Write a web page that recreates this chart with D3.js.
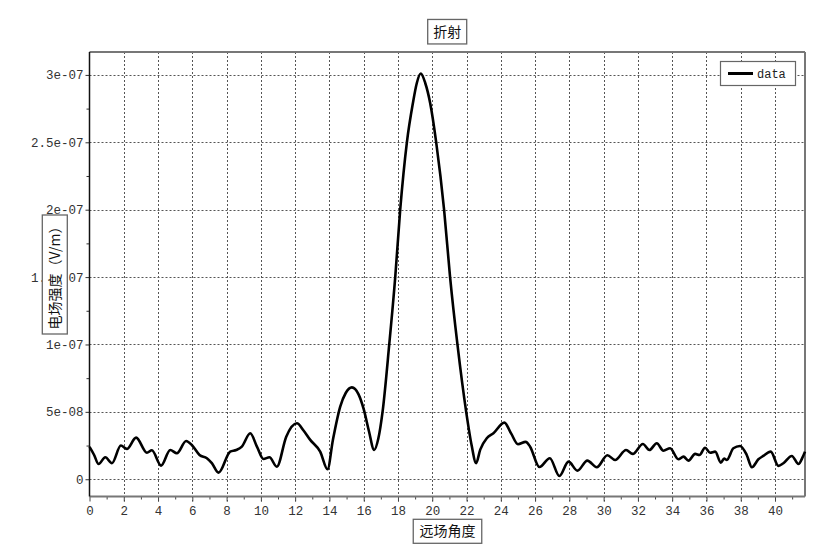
<!DOCTYPE html>
<html>
<head>
<meta charset="utf-8">
<script src="https://cdn.jsdelivr.net/npm/d3@7"></script>
<style>
  html, body { margin: 0; padding: 0; background: #fff; }
  svg { display: block; }
</style>
</head>
<body>
<svg id="chart" width="829" height="555"></svg>
<script>
// ---- data ----
const angle = [0.0, 0.27, 0.53, 0.92, 1.31, 1.83, 2.18, 2.72, 3.35, 3.64, 4.18, 4.71, 5.1, 5.64, 5.97, 6.42, 6.85, 7.14, 7.53,
  8.21, 8.56, 8.89, 9.38, 9.77, 10.15, 10.5, 10.93, 11.48, 12.1, 12.5, 12.88, 13.46, 13.89, 14.2, 14.63, 14.95, 15.31, 15.7,
  16.0, 16.3, 16.61, 16.85, 17.1, 17.49, 17.84, 18.13, 18.52, 18.87, 19.1, 19.33, 19.59, 19.88, 20.23, 20.69, 21.04, 21.47, 21.98,
  22.3, 22.56, 22.8, 23.18, 23.57, 24.21, 24.6, 25.0, 25.45, 25.71, 26.25, 26.86, 27.42, 27.95, 28.47, 29.05, 29.6, 30.22,
  30.67, 31.31, 31.7, 32.29, 32.67, 33.1, 33.49, 33.88, 34.36, 34.66, 34.95, 35.34, 35.59, 35.92, 36.21, 36.51, 36.84, 37.03,
  37.19, 37.57, 37.96, 38.35, 38.65, 39.03, 39.32, 39.75, 40.2, 40.49, 40.98, 41.37, 41.6, 41.75];
const field = [2.4e-8, 1.8e-8, 1.13e-8, 1.63e-8, 1.19e-8, 2.5e-8, 2.25e-8, 3.09e-8, 1.97e-8, 2.15e-8, 1.01e-8, 2.17e-8, 1.93e-8,
  2.84e-8, 2.54e-8, 1.8e-8, 1.56e-8, 1.19e-8, 0.49e-8,
  2.05e-8, 2.17e-8, 2.42e-8, 3.41e-8, 2.42e-8, 1.5e-8, 1.63e-8, 0.93e-8, 3.16e-8, 4.15e-8, 3.6e-8, 2.92e-8, 2.05e-8, 0.74e-8,
  2.9e-8, 5.39e-8, 6.4e-8, 6.82e-8, 6.3e-8,
  5.2e-8, 3.6e-8, 2.17e-8, 3.0e-8, 5.0e-8, 10.0e-8, 15.0e-8, 20.0e-8, 25.0e-8, 27.9e-8, 29.4e-8, 30.1e-8, 29.4e-8, 27.9e-8,
  25.0e-8, 20.0e-8, 15.0e-8, 10.0e-8, 5.0e-8,
  2.5e-8, 1.2e-8, 2.2e-8, 3.04e-8, 3.41e-8, 4.2e-8, 3.4e-8, 2.6e-8, 2.77e-8, 2.42e-8, 0.91e-8, 1.56e-8, 0.24e-8, 1.31e-8,
  0.64e-8, 1.38e-8, 0.89e-8, 1.78e-8,
  1.43e-8, 2.17e-8, 1.88e-8, 2.62e-8, 2.17e-8, 2.67e-8, 2.12e-8, 2.3e-8, 1.48e-8, 1.68e-8, 1.38e-8, 1.88e-8, 1.8e-8, 2.34e-8,
  1.97e-8, 2.05e-8, 1.23e-8, 1.53e-8,
  1.43e-8, 2.3e-8, 2.47e-8, 1.8e-8, 0.89e-8, 1.48e-8, 1.73e-8, 2.05e-8, 0.99e-8, 1.19e-8, 1.73e-8, 1.13e-8, 1.6e-8, 2.05e-8];

const xTickValues = [0, 2, 4, 6, 8, 10, 12, 14, 16, 18, 20, 22, 24, 26, 28, 30, 32, 34, 36, 38, 40];
const xMinorValues = [1, 3, 5, 7, 9, 11, 13, 15, 17, 19, 21, 23, 25, 27, 29, 31, 33, 35, 37, 39, 41];
const yTickValues = [0, 5e-8, 1e-7, 1.5e-7, 2e-7, 2.5e-7, 3e-7];
const yTickLabels = ["0", "5e-08", "1e-07", "1.5e-07", "2e-07", "2.5e-07", "3e-07"];
const yMinorValues = [2.5e-8, 7.5e-8, 1.25e-7, 1.75e-7, 2.25e-7, 2.75e-7];

const titleText = "折射";
const xLabelText = "远场角度";
const yLabelText = "电场强度（V/m）";
const seriesName = "data";

// ---- layout ----
const L = 89.5, R = 805, T = 52, B = 496.5;
const svg = d3.select("#chart");
const x = d3.scaleLinear().domain([0, 41.75]).range([L, R]);
const y = d3.scaleLinear().domain([-1.28e-8, 3.17e-7]).range([B, T]);

const monoFont = "'Liberation Mono', 'DejaVu Sans Mono', monospace";
const cjkFont = "'Noto Sans CJK SC', sans-serif";

// gridlines
const grid = svg.append("g").attr("stroke", "#555").attr("stroke-width", 1).attr("stroke-dasharray", "2,2");
grid.selectAll("line.vx").data(xTickValues.filter(d => d > 0)).join("line")
  .attr("x1", d => Math.round(x(d)) + 0.5).attr("x2", d => Math.round(x(d)) + 0.5)
  .attr("y1", T).attr("y2", B + 5);
grid.selectAll("line.hy").data(yTickValues).join("line")
  .attr("x1", L).attr("x2", R)
  .attr("y1", d => Math.round(y(d)) + 0.5).attr("y2", d => Math.round(y(d)) + 0.5);

// x axis (bottom)
const xAxis = d3.axisBottom(x).tickValues(xTickValues).tickSize(5).tickPadding(5).tickFormat(d3.format("d"));
const gx = svg.append("g").attr("transform", `translate(0,${B})`).call(xAxis);
gx.select(".domain").remove();
gx.selectAll(".tick line").attr("stroke", "#444");
gx.selectAll("text").attr("font-family", monoFont).attr("font-size", 12.5).attr("fill", "#333");
const xMinor = d3.axisBottom(x).tickValues(xMinorValues).tickSize(3).tickFormat("");
const gxm = svg.append("g").attr("transform", `translate(0,${B})`).call(xMinor);
gxm.select(".domain").remove();
gxm.selectAll(".tick line").attr("stroke", "#444");

// y axis (left)
const yAxis = d3.axisLeft(y).tickValues(yTickValues).tickSize(4).tickPadding(2)
  .tickFormat((d, i) => yTickLabels[i]);
const gy = svg.append("g").attr("transform", `translate(${L},0)`).call(yAxis);
gy.select(".domain").remove();
gy.selectAll(".tick line").attr("stroke", "#333");
gy.selectAll("text").attr("font-family", monoFont).attr("font-size", 12.5).attr("fill", "#333");
const yMinor = d3.axisLeft(y).tickValues(yMinorValues).tickSize(3).tickFormat("");
const gym = svg.append("g").attr("transform", `translate(${L},0)`).call(yMinor);
gym.select(".domain").remove();
gym.selectAll(".tick line").attr("stroke", "#333");

// frame
svg.append("line").attr("x1", L).attr("x2", R).attr("y1", T).attr("y2", T).attr("stroke", "#777").attr("stroke-width", 2);
svg.append("line").attr("x1", R).attr("x2", R).attr("y1", T).attr("y2", B).attr("stroke", "#777").attr("stroke-width", 2);
svg.append("line").attr("x1", L).attr("x2", R).attr("y1", B).attr("y2", B).attr("stroke", "#777").attr("stroke-width", 2);
svg.append("line").attr("x1", L).attr("x2", L).attr("y1", T).attr("y2", B).attr("stroke", "#111").attr("stroke-width", 1.5);

// data line
const pts = angle.map((a, i) => [a, field[i]]);
const line = d3.line().x(d => x(d[0])).y(d => y(d[1])).curve(d3.curveMonotoneX);
svg.append("path").datum(pts).attr("d", line)
  .attr("fill", "none").attr("stroke", "#000").attr("stroke-width", 2.6).attr("stroke-linejoin", "round");

// legend
const lg = svg.append("g");
lg.append("rect").attr("x", 720.5).attr("y", 61.5).attr("width", 75).attr("height", 24)
  .attr("fill", "#fff").attr("stroke", "#666").attr("stroke-width", 1.2);
lg.append("line").attr("x1", 728).attr("x2", 753).attr("y1", 73.5).attr("y2", 73.5)
  .attr("stroke", "#000").attr("stroke-width", 3);
lg.append("text").attr("x", 757).attr("y", 77.5).text(seriesName)
  .attr("font-family", monoFont).attr("font-size", 12).attr("fill", "#222");

// boxed label helper
function boxedText(cx, cy, w, h, txt, rotate) {
  const g = svg.append("g").attr("transform", `translate(${cx},${cy})` + (rotate ? " rotate(-90)" : ""));
  g.append("rect").attr("x", -w / 2).attr("y", -h / 2).attr("width", w).attr("height", h)
    .attr("fill", "#fff").attr("stroke", "#666").attr("stroke-width", 1.3);
  g.append("text").attr("x", 0).attr("y", 0).attr("dy", "0.36em").attr("text-anchor", "middle")
    .attr("font-family", cjkFont).attr("font-size", 14).attr("fill", "#111").text(txt);
}
boxedText(447.2, 31.7, 39, 24.5, titleText, false);
boxedText(447.5, 531.3, 68.5, 24, xLabelText, false);
boxedText(54.8, 274.5, 119, 25, yLabelText, true);
</script>
</body>
</html>
